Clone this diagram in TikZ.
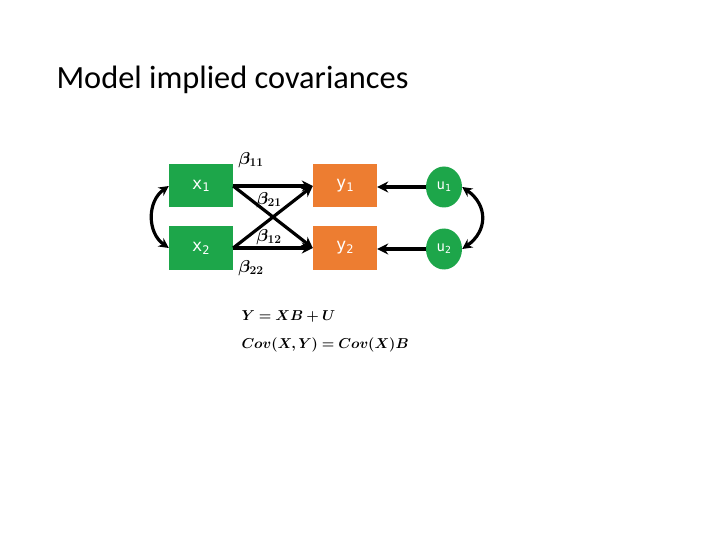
\documentclass[tikz,border=0pt]{standalone}
\usepackage{fontspec}
\setmainfont{Carlito}
\newfontfamily\boxfont{DejaVu Sans Mono}
\usepackage{amsmath}
\usepackage{bm}
\usetikzlibrary{arrows.meta,shapes.geometric}
\definecolor{boxgreen}{HTML}{1DA64A}
\definecolor{boxorange}{HTML}{ED7D31}
\tikzset{
  xvar/.style={draw=none,fill=boxgreen,text=white,minimum width=64bp,minimum height=43bp,inner sep=0pt,font=\boxfont\fontsize{17}{19}\selectfont},
  yvar/.style={xvar,fill=boxorange},
  uvar/.style={ellipse,fill=boxgreen,text=white,minimum width=36bp,minimum height=41bp,inner sep=0pt,font=\boxfont\fontsize{14}{16}\selectfont},
  path/.style={line width=3.2bp,-{Stealth[length=11bp,width=11bp]}},
  cov/.style={line width=3.2bp,{Stealth[length=10bp,width=10bp]}-{Stealth[length=10bp,width=10bp]}},
  coef/.style={font=\fontsize{17}{19}\selectfont}
}
\begin{document}
\begin{tikzpicture}[x=1bp,y=-1bp]
\useasboundingbox[fill=white] (0,0) rectangle (720,540);
\node[right] (title) at (53,80) {\fontsize{32.5}{36}\selectfont Model implied covariances};
% variables
\node[xvar] (x1) at (201,186) {x\textsubscript{1}};
\node[xvar] (x2) at (201,248) {x\textsubscript{2}};
\node[yvar] (y1) at (345,186) {y\textsubscript{1}};
\node[yvar] (y2) at (345,248) {y\textsubscript{2}};
\node[uvar] (u1) at (444,187) {u\textsubscript{1}};
\node[uvar] (u2) at (444,249) {u\textsubscript{2}};
% regression paths
\draw[path] (x1.east) -- (y1.west);
\draw[path] (x1.east) -- (y2.west);
\draw[path] (x2.east) -- (y1.west);
\draw[path] (x2.east) -- (y2.west);
\draw[path] (u1.west) -- (y1.east |- u1.west);
\draw[path] (u2.west) -- (y2.east |- u2.west);
% covariances
\draw[cov] (x1.west) to[out=215,in=145,looseness=1.1] (x2.west);
\draw[cov] (u1.east) to[out=-35,in=35,looseness=1.3] (u2.east);
% coefficients
\node[coef] (b11) at (251,160) {$\bm{\beta_{11}}$};
\node[coef] (b21) at (269,200) {$\bm{\beta_{21}}$};
\node[coef] (b12) at (269,237) {$\bm{\beta_{12}}$};
\node[coef] (b22) at (251,268) {$\bm{\beta_{22}}$};
% equations
\node[right,font=\fontsize{15}{18}\selectfont] (eq1) at (238,316) {$\bm{Y = XB + U}$};
\node[right,font=\fontsize{15}{18}\selectfont] (eq2) at (238,345) {$\bm{Cov(X,Y) = Cov(X)B}$};
\end{tikzpicture}
\end{document}
